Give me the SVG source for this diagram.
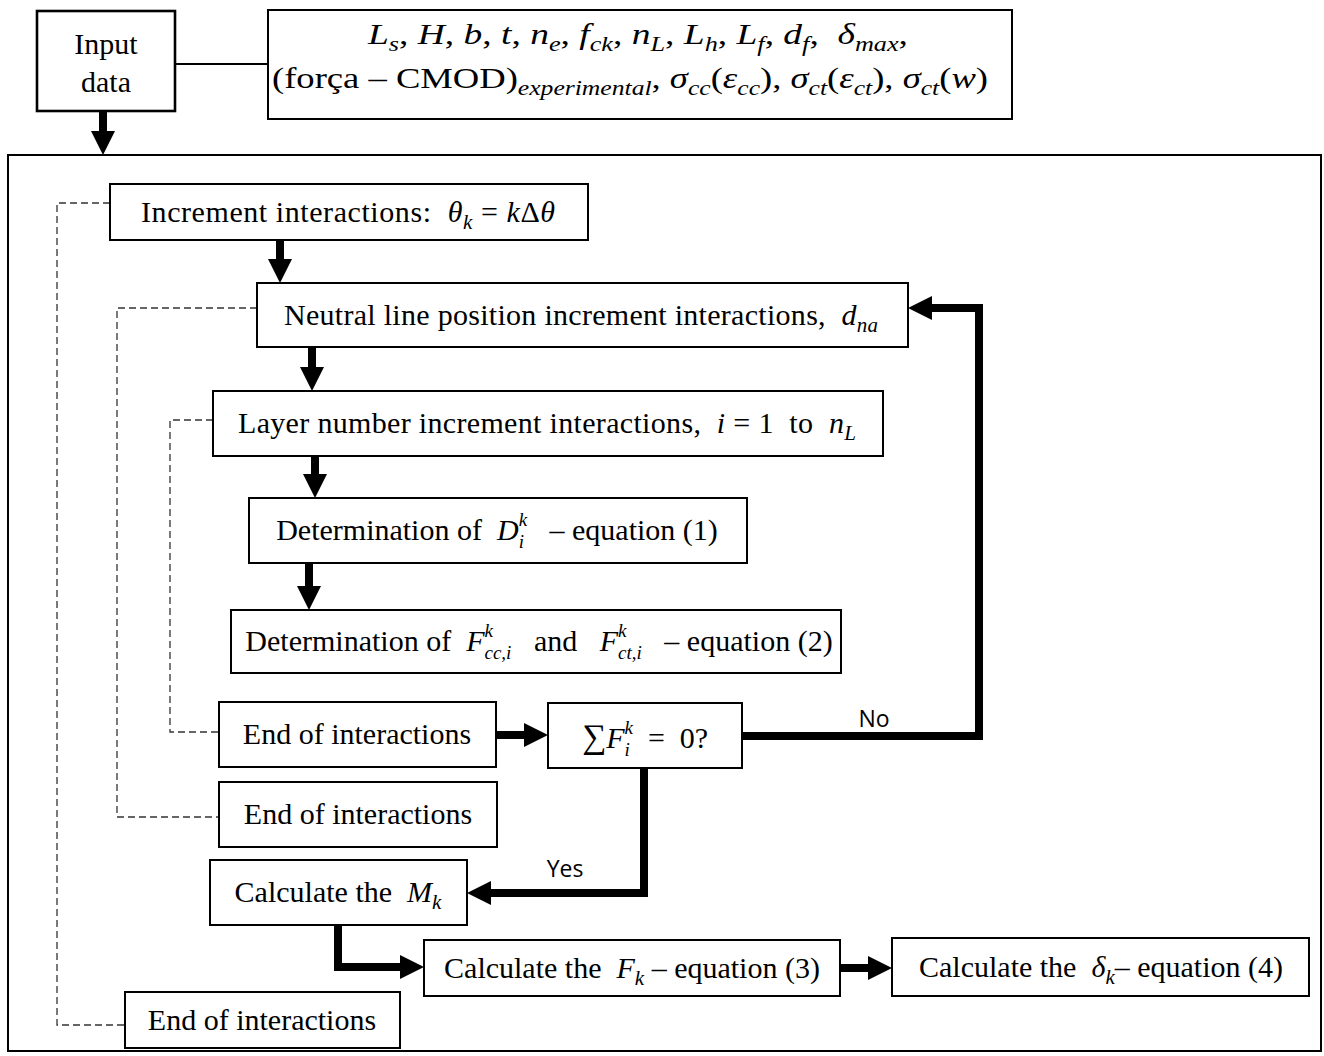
<svg xmlns="http://www.w3.org/2000/svg" width="1324" height="1056" viewBox="0 0 1324 1056">
<defs>
<style>
.t{font-family:"Liberation Serif","Times New Roman",serif;font-size:30px;fill:#000}
.m{font-style:italic}
.s{font-size:21px;font-style:italic}
.ss{font-size:19px;font-style:italic}
.lbl{font-family:"Open Sans","Liberation Sans",sans-serif;font-size:23px;fill:#000}
.box{fill:#fff;stroke:#000;stroke-width:2}
.conn{fill:none;stroke:#000;stroke-width:8;stroke-linejoin:miter;marker-end:url(#ah)}
.line{fill:none;stroke:#000;stroke-width:2}
.dash{fill:none;stroke:#333;stroke-width:1.3;stroke-dasharray:7 4}
</style>
<marker id="ah" markerUnits="userSpaceOnUse" markerWidth="24" markerHeight="24" refX="0" refY="12" orient="auto" viewBox="0 0 24 24">
<path d="M0,0 L24,12 L0,24 Z" fill="#000"/>
</marker>
</defs>
<rect width="1324" height="1056" fill="#fff"/>

<g id="main-frame"><rect x="8" y="155" width="1313" height="896" fill="none" stroke="#000" stroke-width="2"/></g>

<g id="connectors">
<line class="line" x1="175" y1="64" x2="268" y2="64"/>
<path class="conn" d="M103,111 V131"/>
<path class="conn" d="M280,240 V259"/>
<path class="conn" d="M312,347 V367"/>
<path class="conn" d="M315,456 V474"/>
<path class="conn" d="M309,563 V586"/>
<path class="conn" d="M496,735 H524"/>
<path class="conn" d="M742,736 H979 V308 H932"/>
<path class="conn" d="M644,768 V893 H491"/>
<path class="conn" d="M338,925 V967 H400"/>
<path class="conn" d="M840,968 H868"/>
<path class="dash" d="M110,203 H57 V1025 H125"/>
<path class="dash" d="M257,308 H117 V817 H219"/>
<path class="dash" d="M213,420 H170 V732 H219"/>
<text class="lbl" x="874" y="727" text-anchor="middle">No</text>
<text class="lbl" x="565" y="877" text-anchor="middle">Yes</text>
</g>

<g id="input-data">
<rect x="37" y="11" width="138" height="100" fill="#fff" stroke="#000" stroke-width="2.6"/>
<text class="t" x="106" y="54" text-anchor="middle">Input</text>
<text class="t" x="106" y="92" text-anchor="middle">data</text>
</g>

<g id="input-parameters">
<rect class="box" x="268" y="10" width="744" height="109"/>
<text class="t" x="638" y="44" text-anchor="middle" textLength="540" lengthAdjust="spacingAndGlyphs"><tspan class="m">L</tspan><tspan class="s" dy="7">s</tspan><tspan dy="-7">, </tspan><tspan class="m">H</tspan>, <tspan class="m">b</tspan>, <tspan class="m">t</tspan>, <tspan class="m">n</tspan><tspan class="s" dy="7">e</tspan><tspan dy="-7">, </tspan><tspan class="m">f</tspan><tspan class="s" dy="7">ck</tspan><tspan dy="-7">, </tspan><tspan class="m">n</tspan><tspan class="s" dy="7">L</tspan><tspan dy="-7">, </tspan><tspan class="m">L</tspan><tspan class="s" dy="7">h</tspan><tspan dy="-7">, </tspan><tspan class="m">L</tspan><tspan class="s" dy="7">f</tspan><tspan dy="-7">, </tspan><tspan class="m">d</tspan><tspan class="s" dy="7">f</tspan><tspan dy="-7">,&#160; </tspan><tspan class="m">δ</tspan><tspan class="s" dy="7">max</tspan><tspan dy="-7">,</tspan></text>
<text class="t" x="630" y="88" text-anchor="middle" textLength="716" lengthAdjust="spacingAndGlyphs">(força – CMOD)<tspan class="s" dy="7">experimental</tspan><tspan dy="-7">, </tspan><tspan class="m">σ</tspan><tspan class="s" dy="7">cc</tspan><tspan dy="-7">(</tspan><tspan class="m">ε</tspan><tspan class="s" dy="7">cc</tspan><tspan dy="-7">), </tspan><tspan class="m">σ</tspan><tspan class="s" dy="7">ct</tspan><tspan dy="-7">(</tspan><tspan class="m">ε</tspan><tspan class="s" dy="7">ct</tspan><tspan dy="-7">), </tspan><tspan class="m">σ</tspan><tspan class="s" dy="7">ct</tspan><tspan dy="-7">(</tspan><tspan class="m">w</tspan>)</text>
</g>

<g id="increment-theta">
<rect class="box" x="110" y="184" width="478" height="56"/>
<text class="t" x="348" y="222" text-anchor="middle" textLength="414" lengthAdjust="spacing">Increment interactions:&#160; <tspan class="m">θ</tspan><tspan class="s" dy="7">k</tspan><tspan dy="-7"> = </tspan><tspan class="m">k</tspan>Δ<tspan class="m">θ</tspan></text>
</g>

<g id="neutral-line">
<rect class="box" x="257" y="283" width="651" height="64"/>
<text class="t" x="581" y="325" text-anchor="middle" textLength="594" lengthAdjust="spacing">Neutral line position increment interactions,&#160; <tspan class="m">d</tspan><tspan class="s" dy="7">na</tspan></text>
</g>

<g id="layer-number">
<rect class="box" x="213" y="391" width="670" height="65"/>
<text class="t" x="547" y="433" text-anchor="middle" textLength="618" lengthAdjust="spacing">Layer number increment interactions,&#160; <tspan class="m">i</tspan> = 1&#160; to&#160; <tspan class="m">n</tspan><tspan class="s" dy="7">L</tspan></text>
</g>

<g id="determination-d">
<rect class="box" x="249" y="498" width="498" height="65"/>
<text class="t" x="497" y="540" text-anchor="middle">Determination of&#160; <tspan class="m">D</tspan><tspan class="ss" dy="-14">k</tspan><tspan class="ss" dx="-8.4" dy="22">i</tspan><tspan dx="3.1" dy="-8">&#160;&#160; – equation (1)</tspan></text>
</g>

<g id="determination-f">
<rect class="box" x="231" y="610" width="610" height="63"/>
<text class="t" x="539" y="651" text-anchor="middle">Determination of&#160; <tspan class="m">F</tspan><tspan class="ss" dy="-14">k</tspan><tspan class="ss" dx="-8.4" dy="22">cc,i</tspan><tspan dy="-8">&#160;&#160; and&#160;&#160; </tspan><tspan class="m">F</tspan><tspan class="ss" dy="-14">k</tspan><tspan class="ss" dx="-8.4" dy="22">ct,i</tspan><tspan dy="-8">&#160;&#160; – equation (2)</tspan></text>
</g>

<g id="end-layer">
<rect class="box" x="219" y="702" width="277" height="65"/>
<text class="t" x="357" y="744" text-anchor="middle">End of interactions</text>
</g>

<g id="sum-check">
<rect class="box" x="548" y="703" width="194" height="65"/>
<text class="t" x="645" y="748" text-anchor="middle"><tspan font-size="34">∑</tspan><tspan class="m">F</tspan><tspan class="ss" dy="-14">k</tspan><tspan class="ss" dx="-8.4" dy="22">i</tspan><tspan dx="3.1" dy="-8">&#160; =&#160; 0?</tspan></text>
</g>

<g id="end-neutral">
<rect class="box" x="219" y="782" width="278" height="65"/>
<text class="t" x="358" y="824" text-anchor="middle">End of interactions</text>
</g>

<g id="calc-m">
<rect class="box" x="210" y="860" width="257" height="65"/>
<text class="t" x="338" y="902" text-anchor="middle">Calculate the&#160; <tspan class="m">M</tspan><tspan class="s" dy="7">k</tspan></text>
</g>

<g id="calc-f">
<rect class="box" x="424" y="940" width="416" height="56"/>
<text class="t" x="632" y="978" text-anchor="middle">Calculate the&#160; <tspan class="m">F</tspan><tspan class="s" dy="7">k</tspan><tspan dy="-7"> – equation (3)</tspan></text>
</g>

<g id="calc-delta">
<rect class="box" x="892" y="938" width="417" height="58"/>
<text class="t" x="1101" y="977" text-anchor="middle">Calculate the&#160; <tspan class="m">δ</tspan><tspan class="s" dy="7">k</tspan><tspan dy="-7">– equation (4)</tspan></text>
</g>

<g id="end-theta">
<rect class="box" x="125" y="992" width="275" height="56"/>
<text class="t" x="262" y="1030" text-anchor="middle">End of interactions</text>
</g>
</svg>
